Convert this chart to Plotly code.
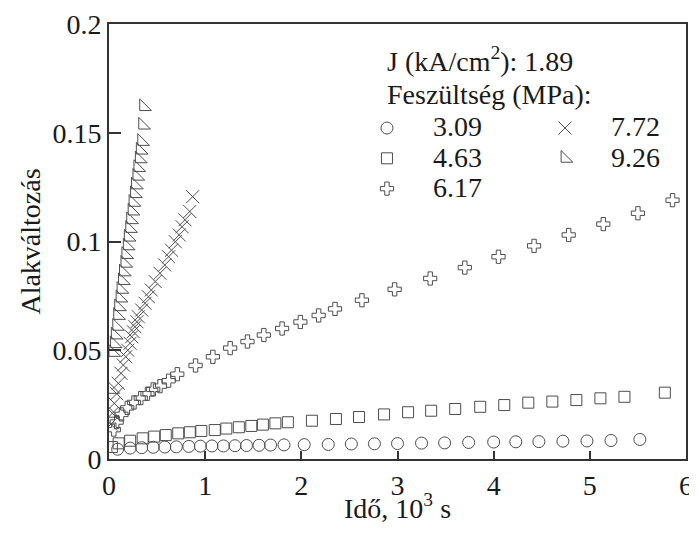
import plotly.graph_objects as go

# ---- data (time in 10^3 s, strain) ----
circ_x = [0.09, 0.22, 0.34, 0.46, 0.58, 0.70, 0.83, 0.95, 1.07, 1.19, 1.31, 1.43, 1.56, 1.68, 1.82,
          2.03, 2.28, 2.52, 2.76, 3.00, 3.25, 3.49, 3.74, 4.00, 4.23, 4.47, 4.72, 4.97, 5.22, 5.52]
circ_y = [0.0045, 0.0050, 0.0052, 0.0054, 0.0055, 0.0056, 0.0058, 0.0059, 0.0060, 0.0060, 0.0061,
          0.0062, 0.0063, 0.0064, 0.0065,
          0.0066, 0.0067, 0.0069, 0.0070, 0.0071, 0.0073, 0.0074, 0.0076, 0.0078, 0.0079, 0.0080,
          0.0082, 0.0083, 0.0085, 0.0090]

sq_x = [0.03, 0.10, 0.22, 0.35, 0.47, 0.59, 0.72, 0.84, 0.96, 1.10, 1.22, 1.35, 1.48, 1.60, 1.73, 1.86,
        2.11, 2.36, 2.60, 2.86, 3.11, 3.35, 3.60, 3.86, 4.11, 4.36, 4.61, 4.86, 5.11, 5.36, 5.78]
sq_y = [0.0055, 0.0072, 0.0084, 0.0095, 0.0103, 0.0110, 0.0118, 0.0123, 0.0129, 0.0133, 0.0140,
        0.0146, 0.0152, 0.0158, 0.0164, 0.0169,
        0.0176, 0.0184, 0.0193, 0.0205, 0.0215, 0.0222, 0.0230, 0.0240, 0.0248, 0.0259, 0.0264,
        0.0271, 0.0279, 0.0286, 0.0305]

plus_x = [0.05, 0.08, 0.13, 0.19, 0.26, 0.33, 0.40, 0.46, 0.53, 0.62, 0.71, 0.90, 1.08, 1.26, 1.44,
          1.61, 1.80, 1.99, 2.18, 2.35, 2.63, 2.97, 3.34, 3.70, 4.05, 4.42, 4.78, 5.14, 5.50, 5.86]
plus_y = [0.0135, 0.0170, 0.0205, 0.0235, 0.0260, 0.0280, 0.0300, 0.0320, 0.0335, 0.0360, 0.0390,
          0.0430, 0.0470, 0.0510, 0.0540, 0.0570, 0.0600, 0.0630, 0.0660, 0.0690, 0.0730, 0.0780,
          0.0830, 0.0880, 0.0930, 0.0980, 0.1030, 0.1080, 0.1130, 0.1190]

x_x = [0.02, 0.034, 0.055, 0.08, 0.097, 0.125, 0.149, 0.174, 0.195, 0.219, 0.236, 0.253, 0.27, 0.29,
       0.305, 0.34, 0.375, 0.41, 0.44, 0.48, 0.53, 0.58, 0.62, 0.65, 0.69, 0.73, 0.76, 0.79, 0.84, 0.87]
x_y = [0.016, 0.021, 0.0256, 0.030, 0.0348, 0.0394, 0.0432, 0.047, 0.050, 0.0532, 0.0562, 0.0585,
       0.0608, 0.0631, 0.0654, 0.0685, 0.0716, 0.0746, 0.0777, 0.0816, 0.0854, 0.0892, 0.093, 0.096,
       0.0999, 0.103, 0.1068, 0.110, 0.1138, 0.1206]

tri_x = [0.02, 0.03, 0.04, 0.055, 0.065, 0.08, 0.09, 0.10, 0.115, 0.125, 0.14, 0.15, 0.165, 0.175,
         0.19, 0.20, 0.215, 0.225, 0.24, 0.25, 0.265, 0.275, 0.29, 0.30, 0.315, 0.325, 0.34, 0.35, 0.36]
tri_y = [0.021, 0.032, 0.049, 0.053, 0.057, 0.061, 0.066, 0.070, 0.074, 0.078, 0.082, 0.086, 0.090,
         0.094, 0.098, 0.102, 0.106, 0.110, 0.114, 0.118, 0.122, 0.126, 0.130, 0.134, 0.138, 0.142,
         0.146, 0.1535, 0.162]

x_ticks = [0, 1, 2, 3, 4, 5, 6]
y_ticks = [0, 0.05, 0.1, 0.15, 0.2]
y_ticktext = ["0", "0.05", "0.1", "0.15", "0.2"]

FS = 28
# name, x, y, symbol, size, legend
series = [
    ("3.09", circ_x, circ_y, "circle-open", 12, "legend"),
    ("4.63", sq_x, sq_y, "square-open", 11, "legend"),
    ("6.17", plus_x, plus_y, "cross-open", 11, "legend"),
    ("7.72", x_x, x_y, "x-thin-open", 13, "legend2"),
    ("9.26", tri_x, tri_y, "triangle-sw-open", 13, "legend2"),
]

FONT = "Liberation Serif, Times New Roman, serif"
TXT = "#1a1a1a"
MC = "#4d4d4d"

fig = go.Figure()
for name, xs, ys, sym, sz, lg in series:
    fig.add_trace(go.Scatter(
        x=xs, y=ys, mode="markers",
        name=f'<span style="font-size:{FS}px">{name}</span>', legend=lg,
        marker=dict(symbol=sym, size=sz, color=MC, line=dict(width=1, color=MC)),
    ))

legend_common = dict(
    xanchor="left", yanchor="top", orientation="v",
    itemwidth=82, tracegroupgap=0, traceorder="normal",
    bgcolor="rgba(0,0,0,0)", borderwidth=0,
    font=dict(family=FONT, size=21, color=TXT),
)

fig.update_layout(
    template="none",
    width=689, height=525,
    margin=dict(l=101, r=11, t=16, b=74),
    paper_bgcolor="white", plot_bgcolor="white",
    font=dict(family=FONT, size=FS, color=TXT),
    showlegend=True,
    legend=dict(x=0.402, y=0.8072, **legend_common),
    legend2=dict(x=0.7106, y=0.8072, **legend_common),
    annotations=[
        dict(text="J (kA/cm<sup>2</sup>): 1.89", xref="paper", yref="paper",
             x=0.478, y=0.918, xanchor="left", yanchor="middle", showarrow=False,
             font=dict(family=FONT, size=FS, color=TXT)),
        dict(text="Feszültség (MPa):", xref="paper", yref="paper",
             x=0.478, y=0.838, xanchor="left", yanchor="middle", showarrow=False,
             font=dict(family=FONT, size=FS, color=TXT)),
        dict(text="Idő, 10<sup>3</sup> s", xref="paper", yref="paper",
             x=0.5, y=-0.11, xanchor="center", yanchor="middle", showarrow=False,
             font=dict(family=FONT, size=FS, color=TXT)),
    ],
)
fig.update_xaxes(
    range=[0, 6], tickvals=x_ticks, ticks="inside", ticklen=8, tickwidth=2,
    tickcolor="#333", showline=True, linewidth=2, linecolor="#333", mirror=True,
    showgrid=False, zeroline=False, automargin=False,
    tickfont=dict(family=FONT, size=FS, color=TXT),
)
fig.update_yaxes(
    range=[0, 0.2], tickvals=y_ticks, ticktext=y_ticktext,
    ticks="inside", ticklen=12, tickwidth=2, tickcolor="#333",
    showline=True, linewidth=2, linecolor="#333", mirror=True,
    showgrid=False, zeroline=False, automargin=False,
    tickfont=dict(family=FONT, size=FS, color=TXT),
    title=dict(text="Alakváltozás", font=dict(family=FONT, size=FS, color=TXT), standoff=4),
)

fig.write_html("out.html")
